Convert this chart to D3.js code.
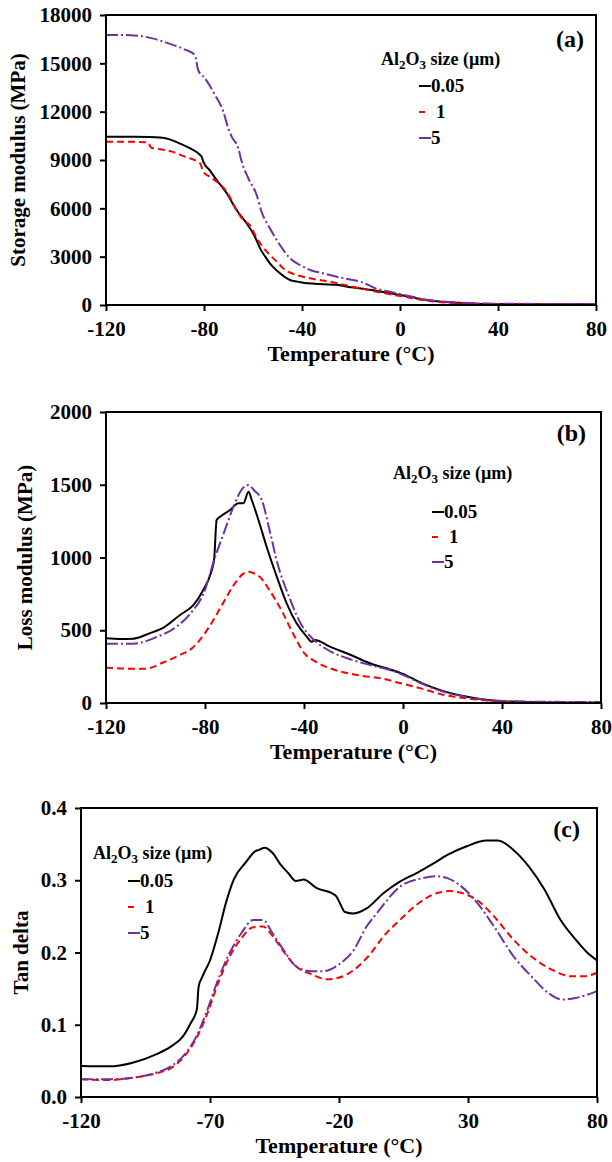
<!DOCTYPE html>
<html>
<head>
<meta charset="utf-8">
<script src="https://cdn.jsdelivr.net/npm/d3@7"></script>
<style>
  body { margin: 0; background: #fff; }
  svg { display: block; }
  text { font-family: "Liberation Serif", "Times New Roman", serif; font-weight: bold; fill: #000; }
</style>
</head>
<body>
<svg id="chart" width="612" height="1162"></svg>
<script>
// sizes of Al2O3 particles (legend)
const sizeLabels = ["0.05", "1", "5"];

// (a) storage modulus, [temperature, MPa]
const storage005 = [[-120,10450],[-110,10440],[-98,10400],[-94,10280],[-90,10036],[-86,9750],[-81.6,9310],[-80.8,9150],[-80.3,8894],[-77.5,8330],[-74.8,7759],[-70.7,6933],[-66.7,5897],[-62.6,5071],[-59.2,4239],[-57.1,3517],[-55,3000],[-53.1,2586],[-51,2240],[-49,1966],[-47,1740],[-44.9,1552],[-42,1450],[-39.5,1386],[-35,1320],[-31.3,1283],[-25.9,1250],[-20,1100],[-15,1010],[-10,890],[-5,760],[0,620],[5,480],[9,350],[14,250],[20,165],[28,100],[40,60],[60,45],[80,40]];
const storage1 = [[-120,10140],[-110,10130],[-103,10100],[-101.5,9760],[-100,9720],[-93,9520],[-87.8,9205],[-81.6,8795],[-80.3,8274],[-77.5,7950],[-74.8,7653],[-70.7,7032],[-66.7,5897],[-64,5276],[-61.2,4950],[-58.8,4250],[-56,3600],[-53.1,3103],[-50,2650],[-47.7,2276],[-45,2020],[-42.2,1862],[-36.7,1655],[-28.6,1448],[-19.5,1140],[-15,1000],[-10,830],[-5,690],[0,560],[5,420],[9,310],[14,210],[20,145],[28,95],[40,60],[60,45],[80,40]];
const storage5 = [[-120,16760],[-110,16750],[-101,16550],[-94.5,16240],[-88,15870],[-83.7,15517],[-82.4,14586],[-79.6,14070],[-75.5,13034],[-72.1,12000],[-70.1,10970],[-68.7,10448],[-66,9726],[-64.6,8895],[-61.9,7866],[-58.5,6828],[-56.5,5790],[-53.1,4760],[-49,3724],[-44.9,2900],[-40.8,2483],[-36.7,2172],[-31.3,1966],[-25.9,1759],[-21,1600],[-16.3,1450],[-13,1250],[-10,1035],[-5,850],[0,680],[5,510],[9,370],[14,270],[20,185],[28,120],[40,80],[60,65],[80,60]];

// (b) loss modulus, [temperature, MPa]
const loss005 = [[-120,445],[-114,440],[-109,442],[-102.7,477],[-96.4,522],[-90.1,605],[-84.7,673],[-80.7,777],[-77.5,900],[-76.3,990],[-75.3,1258],[-73.9,1280],[-69.9,1326],[-66.5,1373],[-64.5,1373],[-62.4,1452],[-61.1,1395],[-58.4,1258],[-55.1,1074],[-51,868],[-47,685],[-43,548],[-38.9,456],[-36.9,421],[-35.6,433],[-29.5,387],[-20.8,328],[-12.9,270],[-5,229],[-0.3,202],[7.6,137],[15.4,87],[26.5,41],[40.6,11],[60,4],[80,2]];
const loss1 = [[-120,243],[-110,236],[-104,236],[-96.4,282],[-90.1,330],[-85,380],[-82.2,431],[-77.5,545],[-72.8,683],[-68,820],[-64.5,889],[-62.5,902],[-60,890],[-57.8,866],[-53.9,774],[-49.1,637],[-44.4,477],[-39.7,339],[-35,282],[-27.1,225],[-17.6,190],[-8.2,167],[-0.3,133],[7.6,99],[15.4,60],[26.5,30],[40.6,11],[60,4],[80,2]];
const loss5 = [[-120,408],[-109,408],[-99.5,454],[-91.7,522],[-85.4,625],[-80.6,751],[-75.9,1003],[-72,1187],[-68,1370],[-64.9,1473],[-62.5,1498],[-60.2,1462],[-57,1393],[-53.9,1187],[-50.7,958],[-46,729],[-41.3,545],[-36.5,442],[-28.7,350],[-20.8,298],[-12.9,259],[-5,225],[-0.3,195],[7.6,133],[15.4,82],[26.5,39],[40.6,14],[60,8],[80,7]];

// (c) tan delta, [temperature, tan delta]
const tan005 = [[-120,0.043],[-109,0.0424],[-100,0.0475],[-90.9,0.059],[-84.9,0.0705],[-80.4,0.0843],[-77.4,0.1028],[-75.1,0.121],[-74.4,0.153],[-72.9,0.167],[-69.9,0.19],[-66.8,0.227],[-63.8,0.269],[-60.8,0.301],[-56.3,0.324],[-52.5,0.34],[-51,0.342],[-48.8,0.345],[-45.8,0.338],[-42.7,0.322],[-39.7,0.31],[-36.7,0.299],[-35.1,0.3],[-33.8,0.301],[-28.6,0.289],[-22.2,0.281],[-20.9,0.277],[-19.6,0.268],[-17.7,0.256],[-14.5,0.254],[-9.3,0.261],[-2.8,0.282],[3.6,0.298],[10.1,0.31],[16.5,0.323],[22,0.335],[29.5,0.347],[37.1,0.355],[41.6,0.355],[47.6,0.342],[53.6,0.319],[59.7,0.287],[65.7,0.246],[71.7,0.218],[76.2,0.2],[80,0.189]];
const tan1 = [[-120,0.0244],[-109,0.0235],[-100,0.0267],[-90.9,0.0327],[-84.9,0.0406],[-80.4,0.0544],[-75.9,0.0774],[-71.4,0.112],[-66.8,0.158],[-62.3,0.195],[-57.8,0.22],[-53.3,0.235],[-49.5,0.236],[-45.8,0.223],[-41.2,0.2],[-36.7,0.181],[-30.7,0.17],[-24.7,0.163],[-20.2,0.165],[-14.2,0.176],[-8.1,0.197],[-2.8,0.222],[3.6,0.245],[10.1,0.266],[17.8,0.282],[23.5,0.285],[28,0.282],[34.1,0.271],[40.1,0.25],[47.6,0.218],[55.1,0.193],[62.7,0.176],[70.2,0.167],[74.7,0.167],[80,0.172]];
const tan5 = [[-120,0.0244],[-109,0.0244],[-100,0.0267],[-90.9,0.0336],[-84.9,0.0429],[-80.4,0.0567],[-75.9,0.0797],[-71.4,0.117],[-66.8,0.163],[-62.3,0.2],[-57.8,0.227],[-53.3,0.245],[-49.5,0.245],[-45.8,0.227],[-41.2,0.202],[-36.7,0.181],[-30.7,0.174],[-26.2,0.174],[-20.2,0.183],[-14.2,0.204],[-9.3,0.236],[-5.4,0.254],[3.6,0.291],[12.7,0.303],[18,0.3055],[22,0.303],[26.5,0.294],[32.6,0.273],[40.1,0.236],[47.6,0.195],[55.1,0.165],[61.1,0.144],[66.4,0.135],[71.7,0.137],[80,0.1465]];

// tick values
const xTicksAB = [-120, -80, -40, 0, 40, 80];
const xTicksC = [-120, -70, -20, 30, 80];
const yTicksA = [0, 3000, 6000, 9000, 12000, 15000, 18000];
const yTicksB = [0, 500, 1000, 1500, 2000];
const yTicksC = [0, 0.1, 0.2, 0.3, 0.4];

// line styles for 0.05, 1, 5
const colors = ["#000000", "#ff0000", "#7030a0"];
const dashes = [null, "7,4", "12,3,2,3"];

let svg = d3.select('#chart');
let plain = function(d){ return String(d); };

function drawPanel(p) {
  let x = d3.scaleLinear().domain([-120, 80]).range([p.left, p.right]);
  let y = d3.scaleLinear().domain(p.yDomain).range([p.bottom, p.top]);
  let g = svg.append('g');

  g.append('g')
    .attr('transform', 'translate(0,' + p.bottom + ')')
    .call(d3.axisBottom(x).tickValues(p.xTicks).tickSize(6).tickPadding(10).tickFormat(plain))
    .call(function(a){ a.select('.domain').remove(); })
    .call(function(a){ a.selectAll('line').attr('stroke-width', 2); })
    .selectAll('text').attr('font-size', 21).attr('font-family', null);

  g.append('g')
    .attr('transform', 'translate(' + p.left + ',0)')
    .call(d3.axisLeft(y).tickValues(p.yTicks).tickSize(6).tickPadding(8).tickFormat(p.yFormat))
    .call(function(a){ a.select('.domain').remove(); })
    .call(function(a){ a.selectAll('line').attr('stroke-width', 2); })
    .selectAll('text').attr('font-size', 21).attr('font-family', null);

  let line = d3.line()
    .x(function(d){ return x(d[0]); })
    .y(function(d){ return y(d[1]); })
    .curve(d3.curveMonotoneX);

  p.series.forEach(function(s, i) {
    g.append('path')
      .datum(s)
      .attr('fill', 'none')
      .attr('stroke', colors[i])
      .attr('stroke-width', 2)
      .attr('stroke-dasharray', dashes[i])
      .attr('d', line);
  });

  g.append('rect')
    .attr('x', p.left).attr('y', p.top)
    .attr('width', p.right - p.left).attr('height', p.bottom - p.top)
    .attr('fill', 'none').attr('stroke', '#000').attr('stroke-width', 2);

  g.append('text')
    .attr('x', (p.left + p.right) / 2).attr('y', p.bottom + 56)
    .attr('text-anchor', 'middle').attr('font-size', 22)
    .text('Temperature (°C)');

  g.append('text')
    .attr('transform', 'translate(' + p.yTitleX + ',' + ((p.top + p.bottom) / 2) + ') rotate(-90)')
    .attr('text-anchor', 'middle').attr('font-size', 21)
    .text(p.yTitle);

  g.append('text')
    .attr('x', p.tagX).attr('y', p.tagY)
    .attr('text-anchor', 'end').attr('font-size', 24)
    .text(p.tag);

  // legend
  let title = g.append('text')
    .attr('x', p.legX).attr('y', p.legY)
    .attr('font-size', 18);
  title.append('tspan').text('Al');
  title.append('tspan').attr('dy', 4).attr('font-size', 13).text('2');
  title.append('tspan').attr('dy', -4).text('O');
  title.append('tspan').attr('dy', 4).attr('font-size', 13).text('3');
  title.append('tspan').attr('dy', -4).text(' size (µm)');

  sizeLabels.forEach(function(lab, i) {
    let yy = p.entryY + i * p.entryStep;
    g.append('line')
      .attr('x1', p.entryX).attr('x2', p.entryX + 12)
      .attr('y1', yy - 6).attr('y2', yy - 6)
      .attr('stroke', colors[i]).attr('stroke-width', 2)
      .attr('stroke-dasharray', i == 1 ? '6,10' : null);
    g.append('text')
      .attr('x', p.entryX + (i == 1 ? 17 : 12)).attr('y', yy)
      .attr('font-size', 19)
      .text(lab);
  });
}

drawPanel({
  left: 106, right: 596, top: 15, bottom: 305,
  yDomain: [0, 18000], xTicks: xTicksAB, yTicks: yTicksA, yFormat: plain,
  series: [storage005, storage1, storage5],
  yTitle: 'Storage modulus (MPa)', yTitleX: 25,
  tag: '(a)', tagX: 584, tagY: 47,
  legX: 381, legY: 65, entryX: 419, entryY: 92, entryStep: 26
});

drawPanel({
  left: 106, right: 601, top: 412, bottom: 703,
  yDomain: [0, 2000], xTicks: xTicksAB, yTicks: yTicksB, yFormat: plain,
  series: [loss005, loss1, loss5],
  yTitle: 'Loss modulus (MPa)', yTitleX: 32,
  tag: '(b)', tagX: 586, tagY: 441,
  legX: 393, legY: 479, entryX: 432, entryY: 518, entryStep: 25
});

drawPanel({
  left: 81, right: 597, top: 808, bottom: 1097,
  yDomain: [0, 0.4], xTicks: xTicksC, yTicks: yTicksC, yFormat: d3.format('.1f'),
  series: [tan005, tan1, tan5],
  yTitle: 'Tan delta', yTitleX: 28,
  tag: '(c)', tagX: 580, tagY: 837,
  legX: 93, legY: 859, entryX: 128, entryY: 887, entryStep: 26
});
</script>
</body>
</html>
